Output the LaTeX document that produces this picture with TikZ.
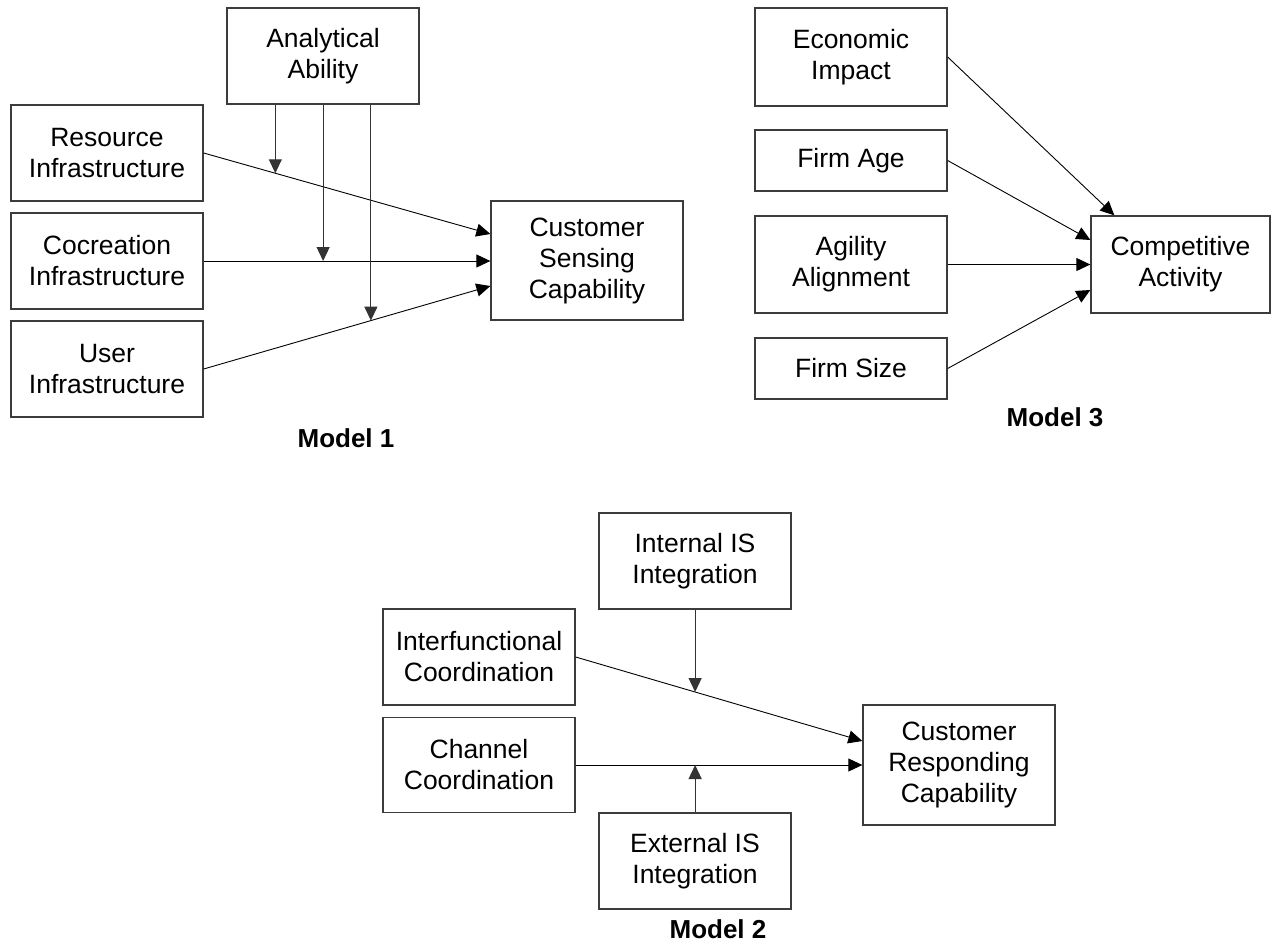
\documentclass[tikz,border=0pt]{standalone}
\usepackage{fontspec}
\setmainfont{Liberation Sans}
\usetikzlibrary{arrows.meta,calc}
\definecolor{boxgray}{RGB}{60,60,60}
\begin{document}
\begin{tikzpicture}[x=1pt,y=-1pt,
  box/.style={draw=boxgray, line width=1.3pt, fill=white, inner sep=0pt, align=center,
    font=\fontsize{26.5}{31}\selectfont, minimum width=192pt, minimum height=96pt},
  conn/.style={draw=black, line width=0.9pt, -{Triangle[length=14pt,width=13pt]}},
  modr/.style={draw=black!80, line width=1.2pt, -{Triangle[length=14pt,width=13pt]}},
  mlabel/.style={font=\fontsize{26}{31}\selectfont\bfseries, anchor=base}]
\useasboundingbox (0,0) rectangle (1272,945);

% ---------- Model 1 ----------
\node[box] (AA) at (323,56) {Analytical\\Ability};
\node[box] (RI) at (107,153) {Resource\\Infrastructure};
\node[box] (CI) at (107,261) {Cocreation\\Infrastructure};
\node[box] (UI) at (107,369) {User\\Infrastructure};
\node[box, minimum height=119pt] (CSC) at (587,260.5) {Customer\\Sensing\\Capability};

\draw[conn] (RI.east) -- coordinate[pos=0.25] (m1) ($(CSC.west)+(0,-26.5)$);
\draw[conn] (CI.east) -- coordinate[pos=0.4167] (m2) (CI.east -| CSC.west);
\draw[conn] (UI.east) -- coordinate[pos=0.5833] (m3) ($(CSC.west)+(0,25.5)$);
\draw[modr] (AA.south -| m1) -- (m1);
\draw[modr] (AA.south -| m2) -- (m2);
\draw[modr] (AA.south -| m3) -- (m3);
\node[mlabel] (L1) at (346,447) {Model 1};

% ---------- Model 3 ----------
\node[box, minimum height=98pt] (EI) at (851,57) {Economic\\Impact};
\node[box, minimum height=61pt] (FA) at (851,160.5) {Firm Age};
\node[box, minimum height=97pt] (AL) at (851,264.5) {Agility\\Alignment};
\node[box, minimum height=61pt] (FS) at (851,368.5) {Firm Size};
\node[box, minimum width=179pt, minimum height=97pt] (CA) at (1180.5,264.5) {Competitive\\Activity};

\draw[conn] (EI.east) -- ($(CA.north west)+(24,0)$);
\draw[conn] (FA.east) -- ($(CA.west)+(0,-24.5)$);
\draw[conn] (AL.east) -- (CA.west);
\draw[conn] (FS.east) -- ($(CA.west)+(0,25.5)$);
\node[mlabel] (L3) at (1055,426) {Model 3};

% ---------- Model 2 ----------
\node[box] (II) at (695,561) {Internal IS\\Integration};
\node[box] (IC) at (479,657) {Interfunctional\\Coordination};
\node[box, minimum height=95pt] (CC) at (479,765) {Channel\\Coordination};
\node[box, minimum height=120pt] (CRC) at (959,765) {Customer\\Responding\\Capability};
\node[box] (EX) at (695,861) {External IS\\Integration};

\draw[conn] (IC.east) -- coordinate[pos=0.4167] (m4) ($(CRC.west)+(0,-24)$);
\draw[conn] (CC.east) -- coordinate[pos=0.4167] (m5) (CRC.west);
\draw[modr] (II.south -| m4) -- (m4);
\draw[modr] (EX.north -| m5) -- (m5);
\node[mlabel] (L2) at (718,938) {Model 2};
\end{tikzpicture}
\end{document}
